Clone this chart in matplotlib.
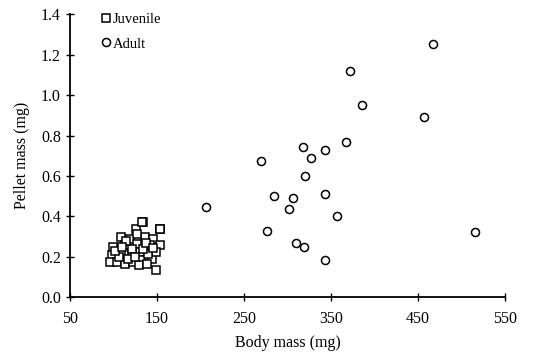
import matplotlib
matplotlib.use('Agg')
import matplotlib.pyplot as plt

plt.rcParams['font.family'] = ['Liberation Serif', 'DejaVu Serif']

# Juvenile (body mass mg, pellet mass mg)
juv_body = [134, 126, 153, 109, 119, 136, 146, 100, 113, 127, 142, 153, 98, 109, 121,
            130, 144, 96, 104, 113, 123, 132, 149, 127, 149, 140, 121, 134, 117, 106,
            129, 138, 133, 153, 102, 115, 125, 137, 110, 145]
juv_pellet = [0.37, 0.335, 0.335, 0.297, 0.289, 0.297, 0.289, 0.248, 0.256, 0.264, 0.256, 0.256, 0.206, 0.214, 0.214,
              0.223, 0.19, 0.173, 0.173, 0.165, 0.173, 0.182, 0.132, 0.313, 0.223, 0.214, 0.24, 0.239, 0.19, 0.198,
              0.157, 0.165, 0.37, 0.335, 0.23, 0.28, 0.20, 0.27, 0.25, 0.245]

# Adult
adult_body = [206, 320, 284, 306, 343, 302, 357, 276, 310, 319, 343,
              372, 386, 367, 318, 343, 270, 327, 467, 457, 515]
adult_pellet = [0.447, 0.60, 0.50, 0.489, 0.513, 0.434, 0.404, 0.327, 0.266, 0.246, 0.183,
                1.119, 0.949, 0.767, 0.743, 0.728, 0.673, 0.688, 1.256, 0.893, 0.323]

fig = plt.figure(figsize=(5.55, 3.52), dpi=100)
ax = fig.add_axes([0.126, 0.156, 0.784, 0.803])

ax.plot(juv_body, juv_pellet, 's', markersize=5.4, markerfacecolor='white',
        markeredgecolor='black', markeredgewidth=1.1, label='Juvenile')
ax.plot(adult_body, adult_pellet, 'o', markersize=5.8, markerfacecolor='white',
        markeredgecolor='black', markeredgewidth=1.1, label='Adult')

ax.set_xlim(50, 550)
ax.set_ylim(0, 1.4)
ax.set_xticks([50, 150, 250, 350, 450, 550])
ax.set_yticks([0.0, 0.2, 0.4, 0.6, 0.8, 1.0, 1.2, 1.4])
ax.set_yticklabels(['0.0', '0.2', '0.4', '0.6', '0.8', '1.0', '1.2', '1.4'])
ax.spines['top'].set_visible(False)
ax.spines['right'].set_visible(False)
ax.spines['left'].set_linewidth(1.3)
ax.spines['bottom'].set_linewidth(1.3)
ax.tick_params(direction='inout', length=6, width=1, labelsize=11.5)
ax.tick_params(axis='x', pad=7)

ax.set_xlabel('Body mass (mg)', fontsize=11.5, labelpad=6)
ax.set_ylabel('Pellet mass (mg)', fontsize=11.5, labelpad=8)

ax.legend(loc='upper left', bbox_to_anchor=(0.06, 1.025), frameon=False,
          handlelength=0.6, handletextpad=0.15, labelspacing=0.75, fontsize=10.5,
          borderaxespad=0)

fig.savefig('out.png', dpi=100)
